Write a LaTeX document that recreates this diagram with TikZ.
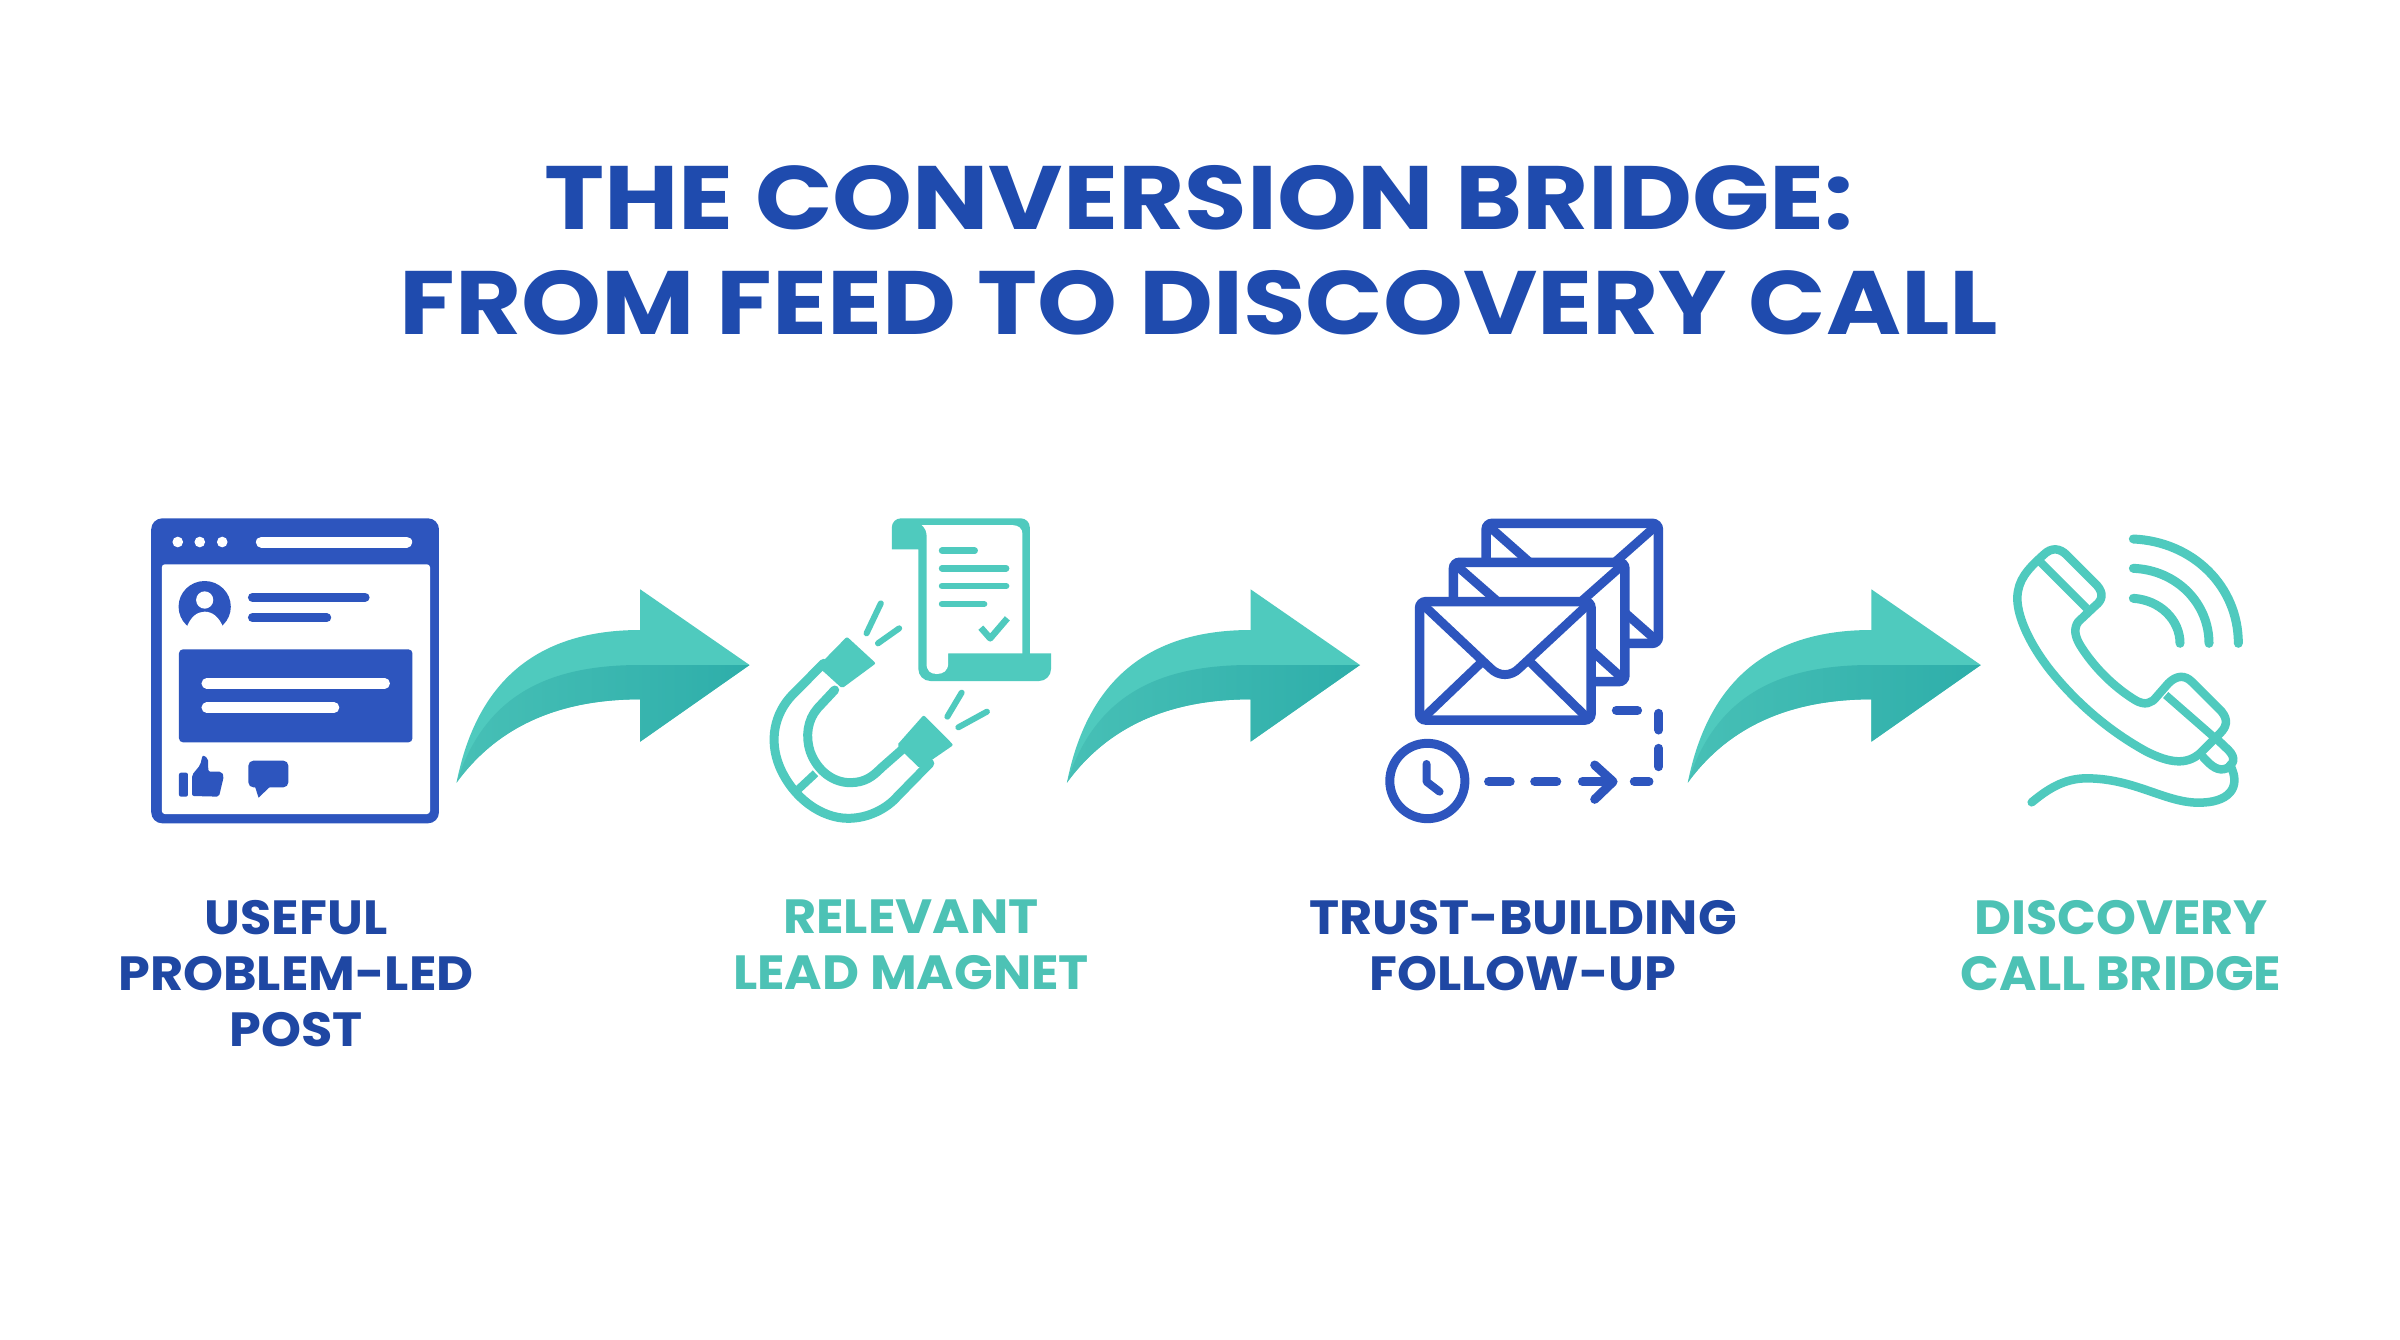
\documentclass[tikz,border=0pt]{standalone}
\usepackage{fontspec}
\setmainfont{Poppins}
\newfontfamily\titlefont{Poppins}[FakeStretch=1.13]
\newfontfamily\labelfont{Poppins}[FakeStretch=1.06]
\definecolor{brandblue}{HTML}{2D55BE}
\definecolor{titleblue}{HTML}{1F4BAE}
\definecolor{labelblue}{HTML}{1F47A3}
\definecolor{teal}{HTML}{4FCABE}
\definecolor{labelteal}{HTML}{4DC2B5}
\definecolor{tealdark}{HTML}{2EAEAA}
\definecolor{tealmid}{HTML}{45BDB4}
\newcommand\bridgearrowdraw{%
    \fill[teal] (800,848) .. controls (850,540) and (1000,390) .. (1250,390)
      -- (1250,268) -- (1518,495) -- (1250,725) -- (1250,598)
      .. controls (1050,598) and (900,680) .. cycle;
    \shade[left color=tealmid!80!teal,right color=tealdark]
      (800,848) .. controls (870,580) and (1030,495) .. (1250,495)
      -- (1518,495) -- (1250,725) -- (1250,598)
      .. controls (1050,598) and (900,680) .. cycle;
}
\tikzset{
  zoomA/.style={shift={(130,500)},xscale=0.40816,yscale=0.33333},
  zoomB/.style={shift={(740,500)},xscale=0.40816,yscale=0.33333},
  zoomC/.style={shift={(1360,500)},xscale=0.40816,yscale=0.33333},
  zoomD/.style={shift={(1980,500)},xscale=0.33333,yscale=0.33333},
  titletext/.style={font=\titlefont\fontsize{90}{105}\selectfont\bfseries,text=titleblue,align=center,inner sep=0},
  labeltext/.style={font=\labelfont\fontsize{48}{56}\selectfont\bfseries,align=center,inner sep=0,anchor=north},
  blueline/.style={draw=brandblue,line width=#1,line cap=round,line join=round},
  tealline/.style={draw=teal,line width=#1,line cap=round,line join=round},
  whiteline/.style={draw=white,line width=#1,line cap=round},
}
\begin{document}
\begin{tikzpicture}[x=1pt,y=-1pt]
\useasboundingbox (0,0) rectangle (2400,1340);
\fill[white] (0,0) rectangle (2400,1340);

\node[titletext,anchor=north] (title) at (1199,165) {THE CONVERSION BRIDGE:\\FROM FEED TO DISCOVERY CALL};

% ---- post window
\begin{scope}[zoomA]
  \fill[brandblue,rounded corners=11] (52,55) rectangle (757,970);
  \fill[white,rounded corners=3] (78,193) rectangle (735,942);
  \foreach \dotx in {117,171,226} \fill[white] (\dotx,126) ellipse [x radius=13,y radius=16];
  \draw[whiteline=11pt] (322,126) -- (678,126);
  \begin{scope}
    \clip (100,230) rectangle (260,381);
    \fill[brandblue] (183,320) ellipse [x radius=64,y radius=77];
    \fill[white] (183,300) ellipse [x radius=21,y radius=26];
    \fill[white] (138,385) .. controls (148,350) and (165,335) .. (183,335)
      .. controls (201,335) and (219,350) .. (229,385) -- cycle;
  \end{scope}
  \draw[blueline=9pt] (300,292) -- (576,292);
  \draw[blueline=9pt] (300,353) -- (482,353);
  \fill[brandblue,rounded corners=4] (120,448) rectangle (692,727);
  \draw[whiteline=10.5pt] (188,550) -- (624,550);
  \draw[whiteline=10.5pt] (188,623) -- (500,623);
  \fill[brandblue,rounded corners=2] (120,818) rectangle (142,890);
  \fill[brandblue,rounded corners=2] (152,888) -- (152,825) -- (172,795) -- (178,765) -- (191,775) -- (192,815) -- (224,815) -- (230,828) -- (218,890) -- cycle;
  \fill[brandblue,rounded corners=5] (290,782) rectangle (388,862);
  \fill[brandblue] (305,855) -- (315,893) -- (345,858) -- cycle;
  \bridgearrowdraw
\end{scope}

% ---- lead magnet
\begin{scope}[zoomB]
  \fill[teal,rounded corners=9] (372,148) -- (372,55) -- (710,55) -- (710,300) [sharp corners] -- (710,460) -- (762,460) [rounded corners=12] -- (762,543) -- (437,543) [sharp corners] -- (437,148) -- cycle;
  \fill[white] (445,75) -- (665,75) .. controls (682,75) and (692,85) .. (692,102) -- (692,460) -- (510,460) -- (510,490)
    .. controls (510,512) and (498,522) .. (482,522) .. controls (466,522) and (457,512) .. (457,490) -- (457,105) .. controls (457,92) and (452,83) .. cycle;
  \draw[tealline=6.5pt] (495,152) -- (575,152);
  \draw[tealline=6.5pt] (495,205) -- (652,205);
  \draw[tealline=6.5pt] (495,258) -- (652,258);
  \draw[tealline=6.5pt] (495,312) -- (598,312);
  \draw[tealline=6.5pt,line cap=butt,miter limit=10] (590,383) -- (613,415) -- (655,355);
  % magnet
  \draw[tealline=9pt] (205,490) -- (128,585) .. controls (85,640) and (70,720) .. (97,800)
    .. controls (130,895) and (200,955) .. (265,955) .. controls (315,955) and (360,925) .. (385,890) -- (465,790);
  \draw[tealline=9pt] (232,570) -- (190,625) .. controls (165,660) and (160,710) .. (172,755)
    .. controls (190,815) and (230,848) .. (270,848) .. controls (305,848) and (325,830) .. (345,805) -- (410,735);
  \draw[tealline=8pt,line cap=butt] (135,877) -- (185,820);
  \fill[teal,rounded corners=2] (262,410) -- (333,490) -- (250,565) -- (205,515) -- (190,500) -- cycle;
  \fill[teal,rounded corners=2] (450,645) -- (523,735) -- (440,805) -- (395,750) -- (385,735) -- cycle;
  \draw[tealline=6pt] (345,310) -- (310,400);
  \draw[tealline=6pt] (390,385) -- (338,430);
  \draw[tealline=6pt] (543,578) -- (508,650);
  \draw[tealline=6pt] (605,635) -- (535,682);
  \begin{scope}[xshift=1pt]\bridgearrowdraw\end{scope}
\end{scope}

% ---- follow-up emails
\begin{scope}[zoomC]
  \tikzset{envelope/.style={draw=brandblue,fill=white,line width=9.5pt,rounded corners=6}}
  \draw[envelope] (309,70) rectangle (731,430);
  \draw[blueline=9pt] (315,78) -- (520,300) -- (725,78);
  \draw[blueline=9pt] (725,420) -- (600,285);
  \draw[envelope] (229,187) rectangle (649,545);
  \draw[blueline=9pt] (235,195) -- (440,415) -- (643,195);
  \draw[blueline=9pt] (643,535) -- (520,400);
  \draw[envelope] (146,305) rectangle (566,660);
  \draw[blueline=9pt] (155,315) -- (320,505) .. controls (340,530) and (370,530) .. (390,505) -- (557,315);
  \draw[blueline=9pt] (160,648) -- (295,490);
  \draw[blueline=9pt] (552,648) -- (420,490);
  \draw[brandblue,line width=9pt] (165,843) ellipse [x radius=92,y radius=113];
  \draw[blueline=8pt] (163,792) -- (163,845) -- (195,875);
  \foreach \ax/\ay/\bx/\by in {315/845/368/845,428/845/482/845,545/845/618/845,672/845/708/845,732/800/732/745,732/690/732/640,680/631/628/631}
    \draw[blueline=9pt] (\ax,\ay) -- (\bx,\by);
  \draw[blueline=9pt] (575,795) -- (620,845) -- (575,898);
  \begin{scope}[xshift=3pt]\bridgearrowdraw\end{scope}
\end{scope}

% ---- phone
\begin{scope}[zoomD]
  \draw[tealline=8.5pt] (190,165) .. controls (215,140) and (240,145) .. (260,165)
    -- (350,255) .. controls (372,280) and (368,300) .. (345,318) -- (295,365)
    .. controls (280,385) and (285,410) .. (300,435)
    .. controls (340,500) and (400,560) .. (465,600) .. controls (495,618) and (515,610) .. (530,590)
    -- (565,550) .. controls (590,525) and (615,525) .. (635,545)
    -- (725,635) .. controls (745,660) and (740,680) .. (720,700)
    -- (660,760) .. controls (620,795) and (570,790) .. (500,755)
    .. controls (390,695) and (290,610) .. (210,510)
    .. controls (140,420) and (110,340) .. (112,290) .. controls (115,240) and (140,210) .. (190,165) -- cycle;
  \draw[tealline=8pt,line cap=butt] (180,185) -- (320,325);
  \draw[tealline=8pt,line cap=butt] (557,585) -- (700,710);
  \draw[tealline=8.5pt] (705,712) -- (745,750) .. controls (770,775) and (760,795) .. (740,805) .. controls (715,815) and (695,800) .. (670,772);
  \draw[tealline=8.5pt] (750,795) .. controls (785,860) and (750,910) .. (650,908)
    .. controls (550,905) and (460,835) .. (320,835) .. controls (250,835) and (200,870) .. (155,907);
  \draw[tealline=9pt] (460,117) .. controls (640,125) and (775,260) .. (775,430);
  \draw[tealline=9pt] (460,205) .. controls (590,210) and (687,310) .. (687,430);
  \draw[tealline=9pt] (460,295) .. controls (540,300) and (600,360) .. (600,430);
\end{scope}

\node[labeltext,text=labelblue] (post) at (296,900) {USEFUL\\PROBLEM-LED\\POST};
\node[labeltext,text=labelteal] (magnet) at (911,900) {RELEVANT\\LEAD MAGNET};
\node[labeltext,text=labelblue] (followup) at (1523,900) {TRUST-BUILDING\\FOLLOW-UP};
\node[labeltext,text=labelteal] (call) at (2121,900) {DISCOVERY\\CALL BRIDGE};
\end{tikzpicture}
\end{document}
